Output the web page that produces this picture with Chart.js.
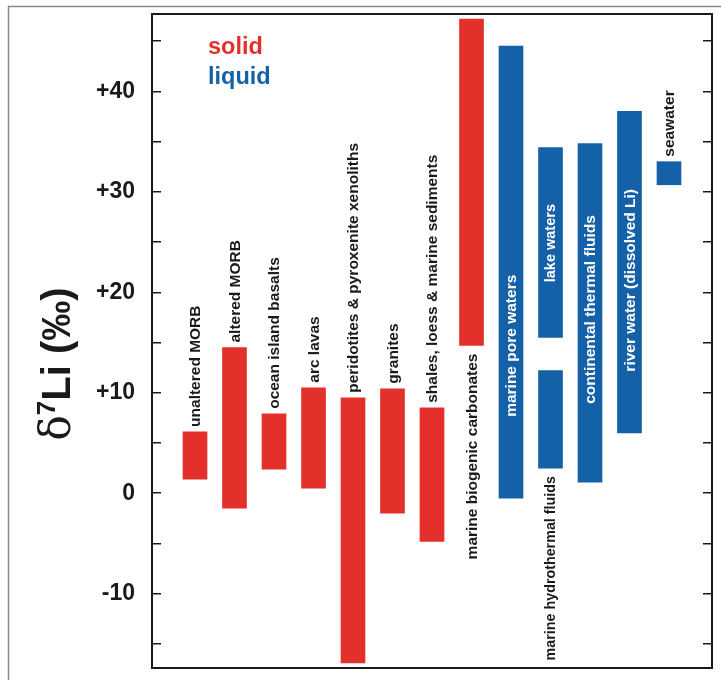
<!DOCTYPE html>
<html><head><meta charset="utf-8">
<script src="https://cdn.jsdelivr.net/npm/chart.js@4.4.1/dist/chart.umd.min.js"></script>
<style>html,body{margin:0;padding:0;background:#fff;overflow:hidden}canvas{display:block}</style>
</head><body>
<canvas id="c" width="721" height="680"></canvas>
<script>
// ---- data ----
const labels = ["unaltered MORB","altered MORB","ocean island basalts","arc lavas",
  "peridotites & pyroxenite xenoliths","granites","shales, loess & marine sediments",
  "marine biogenic carbonates","marine pore waters","lake waters","marine hydrothermal fluids",
  "continental thermal fluids","river water (dissolved Li)","seawater"];
const slot  = [0,1,2,3,4,5,6,7,8,9,9,10,11,12];
const low   = [1.4,-1.5,2.4,0.5,-16.9,-2.0,-4.8,14.7,-0.5,15.5,2.5,1.1,6.0,30.7];
const high  = [6.1,14.5,7.9,10.5,9.5,10.4,8.5,47.2,44.5,34.4,12.2,34.8,38.0,33.0];
const phase = ["solid","solid","solid","solid","solid","solid","solid","solid",
  "liquid","liquid","liquid","liquid","liquid","liquid"];
const labelPlace = ["above","above","above","above","above","above","above",
  "below","inside","inside","below","inside","inside","above"];
const labelStart = [null,null,null,null,null,null,null,null,7.6,21.0,null,8.9,12.1,null];
const yTicks = [-15,-10,-5,0,5,10,15,20,25,30,35,40,45];
const yTickText = ["","-10","","0","","+10","","+20","","+30","","+40",""];
const legendText = ["solid","liquid"];

const RED = "#e3302b", BLUE = "#1461a7";
const FONT = "'Liberation Sans', Arial, sans-serif";
const smallLabel = {"marine hydrothermal fluids":14.3, "lake waters":14.5};

function ds(kind, color){
  const d = [];
  for (let i=0;i<labels.length;i++) if (phase[i]===kind) d.push({x:slot[i], y:[low[i],high[i]]});
  return {label:kind, data:d, backgroundColor:color, borderWidth:0, barThickness:24, grouped:false};
}

const frame = {
  id:'frame',
  beforeDraw(chart){
    const c = chart.ctx; c.save();
    c.fillStyle='#fff'; c.fillRect(0,0,chart.width,chart.height);
    c.strokeStyle='#8a8a8a'; c.lineWidth=1.5;
    c.beginPath(); c.moveTo(8.5,chart.height); c.lineTo(8.5,6.5); c.lineTo(chart.width,6.5); c.stroke();
    c.restore();
  }
};

const annot = {
  id:'annot',
  afterDatasetsDraw(chart){
    const c = chart.ctx, xs = chart.scales.x, ys = chart.scales.y;
    c.save();
    c.textBaseline = 'middle';
    for (let i=0;i<labels.length;i++){
      c.font = "bold " + (smallLabel[labels[i]] || 15.5) + "px " + FONT;
      const px = xs.getPixelForValue(slot[i]) + 1;
      let py, align, color = '#1a1a1a';
      if (labelPlace[i]==='above'){ py = ys.getPixelForValue(high[i]) - 5; align='left'; }
      else if (labelPlace[i]==='below'){ py = ys.getPixelForValue(low[i]) + 8; align='right'; }
      else { py = ys.getPixelForValue(labelStart[i]); align='left'; color='#ffffff'; }
      c.save(); c.translate(px,py); c.rotate(-Math.PI/2);
      c.textAlign = align; c.fillStyle = color;
      c.fillText(labels[i],0,0); c.restore();
    }
    // legend text
    c.textAlign='left'; c.textBaseline='alphabetic';
    c.font = "bold 23.5px " + FONT;
    c.fillStyle = RED; c.fillText(legendText[0], 208, 54);
    c.fillStyle = BLUE; c.fillText(legendText[1], 208, 84);
    // y-axis title  δ7Li (‰)
    const parts = [
      {t:"δ", f:"42px 'DejaVu Serif', 'Liberation Serif', serif", dy:0},
      {t:"7", f:"bold 26px " + FONT, dy:-15},
      {t:"Li (‰)", f:"bold 40px " + FONT, dy:0}
    ];
    let w = 0;
    parts.forEach(p=>{ c.font=p.f; p.w=c.measureText(p.t).width; w+=p.w; });
    c.translate(70, 364); c.rotate(-Math.PI/2);
    let x = -w/2;
    c.fillStyle='#1a1a1a';
    parts.forEach(p=>{ c.font=p.f; c.fillText(p.t, x, p.dy); x+=p.w; });
    c.restore();
  }
};

const yBase = {
  type:'linear', min:-17.4, max:47.7,
  afterBuildTicks(s){ s.ticks = yTicks.map(v=>({value:v})); },
  border:{display:true, color:'#1a1a1a', width:2},
  grid:{drawOnChartArea:false, drawTicks:true, tickLength:-9, color:'#1a1a1a', lineWidth:1.5}
};

new Chart(document.getElementById('c'), {
  type:'bar',
  data:{ datasets:[ds('solid',RED), ds('liquid',BLUE)] },
  options:{
    responsive:false, animation:false, devicePixelRatio:1,
    layout:{padding:0},
    plugins:{legend:{display:false}, tooltip:{enabled:false}, title:{display:false}},
    scales:{
      x:{ type:'linear', position:'bottom', min:-1.089, max:13.089, offset:false,
          ticks:{display:false}, grid:{display:false, drawTicks:false},
          border:{display:true, color:'#1a1a1a', width:2},
          afterFit(s){ s.height = 12; s.paddingLeft=0; s.paddingRight=0; } },
      x2:{ type:'linear', position:'top', min:-1.089, max:13.089, offset:false,
          ticks:{display:false}, grid:{display:false, drawTicks:false},
          border:{display:true, color:'#1a1a1a', width:2},
          afterFit(s){ s.height = 14; s.paddingLeft=0; s.paddingRight=0; } },
      y:Object.assign({}, yBase, { position:'left',
          ticks:{display:true, padding:26, color:'#1a1a1a', font:{family:FONT, size:23, weight:'bold'},
                 callback:(v)=>{ const k=yTicks.indexOf(v); return k>=0?yTickText[k]:''; }},
          afterFit(s){ s.width = 152; s.paddingTop=0; s.paddingBottom=0; } }),
      y2:Object.assign({}, yBase, { position:'right',
          ticks:{display:false},
          afterFit(s){ s.width = 9; s.paddingTop=0; s.paddingBottom=0; } })
    }
  },
  plugins:[frame, annot]
});
</script>
</body></html>
